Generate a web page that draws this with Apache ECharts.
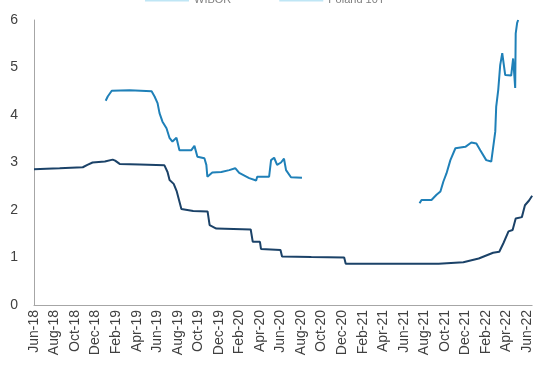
<!DOCTYPE html>
<html>
<head>
<meta charset="utf-8">
<script src="https://cdn.jsdelivr.net/npm/echarts@6/dist/echarts.min.js"></script>
<style>
  html, body { margin: 0; padding: 0; background: #fff; }
  #chart { width: 534px; height: 367px; }
</style>
</head>
<body>
<div id="chart"></div>
<script>
// x = months since Jun-18
var monthLabels = ['Jun-18','Aug-18','Oct-18','Dec-18','Feb-19','Apr-19','Jun-19','Aug-19','Oct-19','Dec-19',
  'Feb-20','Apr-20','Jun-20','Aug-20','Oct-20','Dec-20','Feb-21','Apr-21','Jun-21','Aug-21','Oct-21','Dec-21',
  'Feb-22','Apr-22','Jun-22'];
var seriesNames = ['WIBOR', 'Poland 10Y'];

// dark line
var darkData = [
  [0, 2.86], [1.2, 2.87], [2.5, 2.88], [3.6, 2.89], [4.75, 2.9], [5.2, 2.95], [5.7, 3.0], [6.9, 3.02],
  [7.66, 3.06], [7.9, 3.04], [8.34, 2.97], [10.3, 2.96], [12.7, 2.94], [13.0, 2.8], [13.2, 2.63],
  [13.6, 2.55], [13.9, 2.39], [14.35, 2.02], [15.5, 1.98], [16.9, 1.97], [17.1, 1.68], [17.75, 1.61],
  [21.1, 1.59], [21.3, 1.33], [22.0, 1.33], [22.1, 1.18], [24.0, 1.16], [24.15, 1.02], [27, 1.01],
  [30.2, 1.0], [30.35, 0.87], [35, 0.87], [39.4, 0.87], [41.8, 0.9], [43.3, 0.98], [44.7, 1.1],
  [45.3, 1.12], [45.7, 1.3], [46.2, 1.55], [46.6, 1.58], [46.9, 1.82], [47.5, 1.85], [47.8, 2.1],
  [48.2, 2.2], [48.5, 2.3]
];

// light line, two segments with a gap between
var lightSeg1 = [
  [6.98, 4.3], [7.18, 4.39], [7.57, 4.51], [9.31, 4.52], [11.45, 4.5], [11.74, 4.39], [12.03, 4.25],
  [12.22, 4.04], [12.51, 3.86], [12.9, 3.72], [13.19, 3.52], [13.48, 3.44], [13.87, 3.52], [14.16, 3.26],
  [15.32, 3.26], [15.62, 3.35], [15.91, 3.12], [16.59, 3.09], [16.78, 2.95], [16.88, 2.7], [17.36, 2.79],
  [18.24, 2.8], [19.01, 2.84], [19.59, 2.88], [19.98, 2.78], [20.95, 2.67], [21.63, 2.62], [21.73, 2.7],
  [22.89, 2.7], [23.08, 3.05], [23.38, 3.1], [23.67, 2.95], [24.05, 3.0], [24.34, 3.08], [24.54, 2.84],
  [25.02, 2.69], [26.09, 2.68]
];
var lightSeg2 = [
  [37.54, 2.14], [37.73, 2.21], [38.7, 2.21], [39.19, 2.32], [39.57, 2.39], [39.86, 2.6], [40.16, 2.77],
  [40.54, 3.05], [41.03, 3.3], [42.0, 3.33], [42.58, 3.42], [43.07, 3.4], [43.45, 3.26], [44.03, 3.05],
  [44.52, 3.02], [44.91, 3.65], [45.0, 4.17], [45.2, 4.53], [45.39, 5.05], [45.59, 5.3], [45.78, 5.3],
  [45.88, 4.84], [46.46, 4.83], [46.65, 5.19], [46.85, 4.57], [46.9, 5.72], [47.04, 5.94], [47.14, 6.0]
];

var lightData = lightSeg1.concat([[31, null]], lightSeg2);

var chart = echarts.init(document.getElementById('chart'));
var option = {
  animation: false,
  textStyle: { fontFamily: 'Liberation Sans' },
  legend: {
    top: -11,
    left: 140,
    itemGap: 48,
    itemWidth: 44,
    itemHeight: 4,
    icon: 'rect',
    textStyle: { fontSize: 11, color: '#7f7f7f' },
    data: [
      { name: seriesNames[0], itemStyle: { color: '#bfe6f5' } },
      { name: seriesNames[1], itemStyle: { color: '#bfe6f5' } }
    ]
  },
  grid: { left: 34, right: 0, top: 20, bottom: 62, containLabel: false },
  xAxis: {
    type: 'value',
    min: 0,
    max: 48.5,
    interval: 2,
    axisLine: { show: true, lineStyle: { color: '#a6a6a6', width: 1 } },
    axisTick: { show: false },
    splitLine: { show: false },
    axisLabel: {
      rotate: 90,
      margin: 5,
      fontSize: 14,
      color: '#404040',
      showMaxLabel: false,
      formatter: function (v) {
        return v % 2 === 0 ? (monthLabels[v / 2] || '') : '';
      }
    }
  },
  yAxis: {
    type: 'value',
    min: 0,
    max: 6,
    interval: 1,
    axisLine: { show: true, lineStyle: { color: '#a6a6a6', width: 1 } },
    axisTick: { show: false },
    splitLine: { show: false },
    axisLabel: { fontSize: 14, color: '#404040', margin: 16 }
  },
  series: [
    {
      name: seriesNames[0],
      type: 'line',
      showSymbol: false,
      data: darkData,
      lineStyle: { color: '#1b4268', width: 2 },
      itemStyle: { color: '#1b4268' }
    },
    {
      name: seriesNames[1],
      type: 'line',
      showSymbol: false,
      connectNulls: false,
      data: lightData,
      lineStyle: { color: '#1f80b8', width: 2 },
      itemStyle: { color: '#1f80b8' }
    }
  ]
};
chart.setOption(option);
</script>
</body>
</html>
